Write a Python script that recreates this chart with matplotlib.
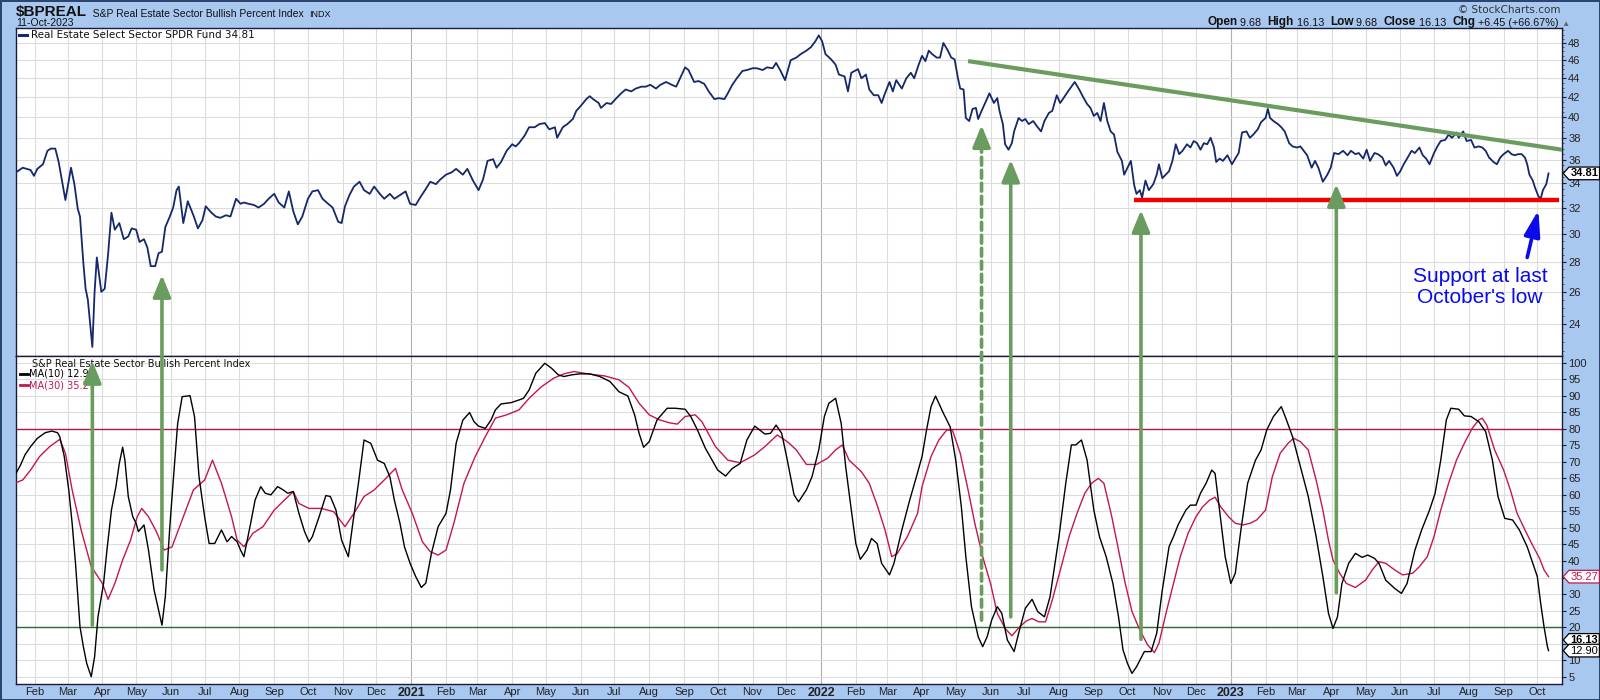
import matplotlib
matplotlib.use("Agg")
import matplotlib.pyplot as plt
import matplotlib.dates as mdates
import pandas as pd
from matplotlib.patches import ConnectionPatch
from matplotlib.lines import Line2D
from matplotlib.path import Path
from matplotlib.ticker import FixedLocator, MultipleLocator, NullFormatter, NullLocator
from matplotlib.transforms import blended_transform_factory

# ---- XLRE close (top panel) ----
price_dates = [
    '2020-01-15', '2020-01-21', '2020-01-28', '2020-01-31', '2020-02-03', '2020-02-08', '2020-02-12', '2020-02-15',
    '2020-02-19', '2020-02-22', '2020-02-28', '2020-03-04', '2020-03-07', '2020-03-10', '2020-03-12', '2020-03-15',
    '2020-03-17', '2020-03-19', '2020-03-23', '2020-03-25', '2020-03-27', '2020-03-31', '2020-04-03', '2020-04-06',
    '2020-04-09', '2020-04-12', '2020-04-16', '2020-04-20', '2020-04-24', '2020-04-27', '2020-05-01', '2020-05-04',
    '2020-05-08', '2020-05-11', '2020-05-14', '2020-05-18', '2020-05-21', '2020-05-24', '2020-05-27', '2020-05-31',
    '2020-06-03', '2020-06-06', '2020-06-08', '2020-06-12', '2020-06-16', '2020-06-21', '2020-06-25', '2020-06-29',
    '2020-07-02', '2020-07-07', '2020-07-11', '2020-07-15', '2020-07-20', '2020-07-24', '2020-07-29', '2020-08-02',
    '2020-08-05', '2020-08-09', '2020-08-14', '2020-08-18', '2020-08-23', '2020-08-27', '2020-09-01', '2020-09-05',
    '2020-09-10', '2020-09-14', '2020-09-18', '2020-09-22', '2020-09-26', '2020-10-01', '2020-10-05', '2020-10-10',
    '2020-10-14', '2020-10-19', '2020-10-23', '2020-10-28', '2020-10-31', '2020-11-03', '2020-11-07', '2020-11-11',
    '2020-11-16', '2020-11-20', '2020-11-25', '2020-11-29', '2020-12-04', '2020-12-08', '2020-12-13', '2020-12-17',
    '2020-12-22', '2020-12-27', '2020-12-31', '2021-01-05', '2021-01-09', '2021-01-14', '2021-01-18', '2021-01-23',
    '2021-01-27', '2021-02-01', '2021-02-06', '2021-02-10', '2021-02-16', '2021-02-20', '2021-02-25', '2021-03-02',
    '2021-03-06', '2021-03-10', '2021-03-15', '2021-03-18', '2021-03-22', '2021-03-27', '2021-04-01', '2021-04-04',
    '2021-04-07', '2021-04-12', '2021-04-16', '2021-04-21', '2021-04-25', '2021-04-30', '2021-05-04', '2021-05-09',
    '2021-05-11', '2021-05-16', '2021-05-20', '2021-05-25', '2021-05-28', '2021-06-01', '2021-06-06', '2021-06-09',
    '2021-06-12', '2021-06-17', '2021-06-19', '2021-06-24', '2021-06-28', '2021-07-02', '2021-07-07', '2021-07-11',
    '2021-07-16', '2021-07-20', '2021-07-25', '2021-07-29', '2021-08-02', '2021-08-07', '2021-08-11', '2021-08-16',
    '2021-08-21', '2021-08-25', '2021-08-30', '2021-09-02', '2021-09-05', '2021-09-10', '2021-09-14', '2021-09-19',
    '2021-09-23', '2021-09-28', '2021-10-02', '2021-10-07', '2021-10-10', '2021-10-14', '2021-10-18', '2021-10-23',
    '2021-10-27', '2021-11-01', '2021-11-05', '2021-11-10', '2021-11-14', '2021-11-19', '2021-11-22', '2021-11-26',
    '2021-11-30', '2021-12-05', '2021-12-10', '2021-12-14', '2021-12-19', '2021-12-23', '2021-12-27', '2021-12-30',
    '2022-01-02', '2022-01-05', '2022-01-10', '2022-01-14', '2022-01-17', '2022-01-22', '2022-01-25', '2022-01-28',
    '2022-02-03', '2022-02-06', '2022-02-10', '2022-02-13', '2022-02-17', '2022-02-21', '2022-02-24', '2022-02-27',
    '2022-03-03', '2022-03-06', '2022-03-09', '2022-03-14', '2022-03-18', '2022-03-22', '2022-03-25', '2022-03-29',
    '2022-04-01', '2022-04-04', '2022-04-07', '2022-04-10', '2022-04-14', '2022-04-17', '2022-04-20', '2022-04-24',
    '2022-04-27', '2022-04-30', '2022-05-03', '2022-05-05', '2022-05-08', '2022-05-10', '2022-05-13', '2022-05-16',
    '2022-05-19', '2022-05-21', '2022-05-24', '2022-05-28', '2022-05-31', '2022-06-04', '2022-06-07', '2022-06-09',
    '2022-06-12', '2022-06-14', '2022-06-17', '2022-06-20', '2022-06-22', '2022-06-26', '2022-06-29', '2022-07-02',
    '2022-07-05', '2022-07-09', '2022-07-13', '2022-07-16', '2022-07-19', '2022-07-23', '2022-07-26', '2022-07-30',
    '2022-08-02', '2022-08-05', '2022-08-09', '2022-08-12', '2022-08-15', '2022-08-19', '2022-08-23', '2022-08-26',
    '2022-08-29', '2022-09-01', '2022-09-04', '2022-09-07', '2022-09-10', '2022-09-13', '2022-09-16', '2022-09-19',
    '2022-09-22', '2022-09-26', '2022-09-28', '2022-10-01', '2022-10-04', '2022-10-07', '2022-10-09', '2022-10-12',
    '2022-10-14', '2022-10-17', '2022-10-20', '2022-10-24', '2022-10-27', '2022-10-29', '2022-11-01', '2022-11-04',
    '2022-11-07', '2022-11-10', '2022-11-13', '2022-11-16', '2022-11-19', '2022-11-23', '2022-11-26', '2022-11-29',
    '2022-12-02', '2022-12-05', '2022-12-08', '2022-12-11', '2022-12-14', '2022-12-17', '2022-12-19', '2022-12-22',
    '2022-12-25', '2022-12-29', '2023-01-02', '2023-01-05', '2023-01-08', '2023-01-11', '2023-01-15', '2023-01-18',
    '2023-01-21', '2023-01-25', '2023-01-28', '2023-02-01', '2023-02-03', '2023-02-05', '2023-02-08', '2023-02-12',
    '2023-02-15', '2023-02-18', '2023-02-22', '2023-02-25', '2023-03-01', '2023-03-04', '2023-03-07', '2023-03-10',
    '2023-03-14', '2023-03-17', '2023-03-20', '2023-03-24', '2023-03-28', '2023-03-31', '2023-04-03', '2023-04-07',
    '2023-04-11', '2023-04-15', '2023-04-18', '2023-04-22', '2023-04-25', '2023-04-29', '2023-05-02', '2023-05-05',
    '2023-05-09', '2023-05-12', '2023-05-16', '2023-05-19', '2023-05-22', '2023-05-26', '2023-05-29', '2023-06-01',
    '2023-06-04', '2023-06-07', '2023-06-11', '2023-06-14', '2023-06-18', '2023-06-21', '2023-06-24', '2023-06-27',
    '2023-07-01', '2023-07-04', '2023-07-07', '2023-07-11', '2023-07-14', '2023-07-17', '2023-07-21', '2023-07-23',
    '2023-07-27', '2023-07-30', '2023-08-03', '2023-08-06', '2023-08-10', '2023-08-13', '2023-08-16', '2023-08-19',
    '2023-08-23', '2023-08-26', '2023-08-29', '2023-09-01', '2023-09-05', '2023-09-08', '2023-09-11', '2023-09-14',
    '2023-09-17', '2023-09-20', '2023-09-22', '2023-09-24', '2023-09-27', '2023-09-29', '2023-10-02', '2023-10-04',
    '2023-10-06', '2023-10-09', '2023-10-11',
]
price_close = [
    34.9, 35.3, 35.1, 34.6, 35.2, 35.6, 36.8, 37.0,
    37.0, 35.8, 32.6, 35.3, 33.9, 31.9, 31.3, 27.9,
    26.2, 25.5, 22.7, 26.0, 28.3, 26.0, 26.2, 28.5,
    31.6, 30.3, 30.8, 29.6, 29.8, 30.4, 30.3, 29.4,
    29.6, 29.0, 27.7, 27.7, 28.6, 28.7, 30.5, 31.3,
    32.0, 33.4, 33.7, 30.8, 32.5, 31.4, 30.4, 31.0,
    32.1, 31.6, 31.3, 31.2, 31.4, 31.3, 32.7, 32.3,
    32.4, 32.3, 32.2, 32.0, 32.3, 32.7, 33.1, 32.4,
    32.0, 33.3, 31.7, 30.7, 31.3, 32.7, 33.3, 33.4,
    32.7, 32.3, 32.0, 30.9, 30.8, 32.1, 33.0, 33.7,
    34.1, 33.4, 33.1, 33.7, 33.1, 32.7, 33.1, 32.7,
    33.0, 33.3, 32.3, 32.2, 32.8, 33.5, 34.1, 33.9,
    34.3, 34.7, 34.9, 35.2, 34.7, 35.2, 34.2, 33.4,
    34.3, 35.9, 36.05, 35.3, 35.8, 36.8, 37.4, 37.2,
    37.5, 38.2, 39.0, 39.0, 39.3, 39.4, 38.8, 39.0,
    38.0, 39.0, 39.3, 39.8, 40.6, 41.1, 41.8, 42.1,
    41.8, 41.4, 40.9, 41.4, 41.3, 41.8, 42.4, 42.8,
    42.6, 42.9, 43.1, 43.1, 43.3, 42.9, 43.3, 43.6,
    43.3, 43.1, 44.4, 45.2, 44.9, 43.6, 43.7, 43.4,
    42.6, 41.8, 41.9, 41.8, 42.4, 43.3, 44.0, 44.8,
    44.9, 45.1, 45.1, 44.9, 45.2, 45.1, 45.7, 44.8,
    43.8, 46.0, 46.3, 46.7, 47.1, 47.5, 48.2, 48.9,
    48.2, 46.7, 46.1, 45.5, 44.4, 44.2, 42.6, 44.6,
    45.0, 44.0, 44.4, 42.8, 42.2, 42.2, 41.4, 42.4,
    43.6, 42.6, 43.8, 42.9, 44.0, 44.6, 44.0, 45.5,
    46.5, 45.9, 47.1, 46.7, 46.3, 46.3, 48.0, 47.1,
    46.3, 46.1, 44.0, 42.9, 42.8, 39.9, 39.6, 40.8,
    40.9, 39.8, 40.6, 41.6, 42.4, 41.4, 41.9, 40.6,
    39.3, 37.4, 36.9, 37.5, 38.6, 39.9, 39.6, 39.8,
    39.3, 39.6, 39.0, 38.6, 39.6, 40.4, 40.6, 42.2,
    41.4, 41.9, 42.6, 43.1, 43.6, 42.8, 41.9, 41.3,
    40.9, 40.1, 40.4, 39.6, 41.4, 39.6, 38.6, 38.3,
    36.7, 35.9, 34.7, 35.3, 35.9, 33.8, 33.1, 33.4,
    32.8, 34.2, 33.4, 33.9, 34.7, 35.6, 34.4, 34.7,
    35.0, 35.9, 37.4, 36.5, 36.8, 37.4, 37.1, 37.7,
    37.5, 36.9, 37.5, 37.4, 38.0, 37.1, 35.8, 36.1,
    35.9, 36.4, 35.6, 36.1, 36.6, 38.5, 38.6, 38.0,
    38.3, 38.8, 39.5, 39.9, 40.8, 39.9, 39.6, 39.3,
    39.0, 38.6, 37.5, 37.2, 37.1, 37.2, 36.8, 36.4,
    35.3, 35.9, 35.3, 34.1, 34.7, 35.3, 36.6, 36.5,
    36.8, 36.4, 36.8, 36.5, 36.6, 36.1, 36.9, 35.9,
    36.6, 36.5, 36.2, 35.5, 35.9, 35.3, 34.6, 35.0,
    35.6, 36.1, 36.8, 36.6, 37.1, 36.4, 36.1, 35.6,
    36.6, 37.2, 37.7, 37.8, 38.3, 38.0, 38.5, 38.0,
    38.6, 37.7, 37.8, 37.1, 37.2, 37.1, 36.8, 36.2,
    35.8, 35.6, 36.2, 36.5, 36.8, 36.5, 36.4, 36.5,
    36.5, 36.2, 35.6, 34.7, 34.2, 33.6, 32.9, 32.7,
    33.4, 33.9, 34.81,
]

# ---- Bullish Percent Index, MA(10) ----
ma10_dates = [
    '2020-01-15', '2020-01-19', '2020-01-23', '2020-01-28', '2020-02-03', '2020-02-10', '2020-02-16', '2020-02-21',
    '2020-02-23', '2020-02-27', '2020-03-02', '2020-03-05', '2020-03-08', '2020-03-12', '2020-03-15', '2020-03-18',
    '2020-03-22', '2020-03-25', '2020-03-28', '2020-04-02', '2020-04-05', '2020-04-09', '2020-04-13', '2020-04-16',
    '2020-04-19', '2020-04-21', '2020-04-24', '2020-04-28', '2020-05-01', '2020-05-03', '2020-05-08', '2020-05-12',
    '2020-05-17', '2020-05-21', '2020-05-24', '2020-05-27', '2020-05-31', '2020-06-04', '2020-06-07', '2020-06-11',
    '2020-06-18', '2020-06-22', '2020-06-26', '2020-07-01', '2020-07-05', '2020-07-10', '2020-07-16', '2020-07-21',
    '2020-07-25', '2020-07-30', '2020-08-02', '2020-08-05', '2020-08-11', '2020-08-15', '2020-08-20', '2020-08-24',
    '2020-08-29', '2020-09-04', '2020-09-09', '2020-09-13', '2020-09-18', '2020-09-23', '2020-09-28', '2020-10-02',
    '2020-10-05', '2020-10-11', '2020-10-17', '2020-10-21', '2020-10-26', '2020-10-31', '2020-11-06', '2020-11-10',
    '2020-11-15', '2020-11-20', '2020-11-26', '2020-12-02', '2020-12-08', '2020-12-13', '2020-12-17', '2020-12-22',
    '2020-12-26', '2020-12-31', '2021-01-05', '2021-01-10', '2021-01-14', '2021-01-19', '2021-01-25', '2021-02-01',
    '2021-02-05', '2021-02-10', '2021-02-16', '2021-02-22', '2021-02-26', '2021-03-02', '2021-03-08', '2021-03-13',
    '2021-03-17', '2021-03-22', '2021-03-31', '2021-04-07', '2021-04-11', '2021-04-16', '2021-04-22', '2021-04-30',
    '2021-05-06', '2021-05-12', '2021-05-17', '2021-05-24', '2021-05-31', '2021-06-09', '2021-06-18', '2021-06-27',
    '2021-07-05', '2021-07-13', '2021-07-19', '2021-07-23', '2021-07-27', '2021-08-01', '2021-08-08', '2021-08-17',
    '2021-08-24', '2021-09-02', '2021-09-07', '2021-09-13', '2021-09-20', '2021-09-26', '2021-10-01', '2021-10-08',
    '2021-10-14', '2021-10-21', '2021-10-27', '2021-11-03', '2021-11-12', '2021-11-17', '2021-11-22', '2021-11-27',
    '2021-12-02', '2021-12-08', '2021-12-12', '2021-12-19', '2021-12-24', '2021-12-30', '2022-01-04', '2022-01-08',
    '2022-01-14', '2022-01-19', '2022-01-23', '2022-01-28', '2022-02-01', '2022-02-05', '2022-02-11', '2022-02-15',
    '2022-02-20', '2022-02-24', '2022-03-03', '2022-03-07', '2022-03-14', '2022-03-21', '2022-03-27', '2022-04-01',
    '2022-04-05', '2022-04-09', '2022-04-13', '2022-04-16', '2022-04-20', '2022-04-26', '2022-05-01', '2022-05-06',
    '2022-05-10', '2022-05-15', '2022-05-21', '2022-05-25', '2022-05-29', '2022-06-02', '2022-06-07', '2022-06-11',
    '2022-06-16', '2022-06-22', '2022-06-26', '2022-07-02', '2022-07-08', '2022-07-13', '2022-07-19', '2022-07-24',
    '2022-08-01', '2022-08-07', '2022-08-12', '2022-08-16', '2022-08-21', '2022-08-26', '2022-09-01', '2022-09-06',
    '2022-09-12', '2022-09-18', '2022-09-23', '2022-09-27', '2022-10-01', '2022-10-05', '2022-10-09', '2022-10-16',
    '2022-10-22', '2022-10-27', '2022-11-01', '2022-11-07', '2022-11-11', '2022-11-15', '2022-11-22', '2022-11-26',
    '2022-12-01', '2022-12-05', '2022-12-10', '2022-12-15', '2022-12-18', '2022-12-22', '2022-12-27', '2023-01-01',
    '2023-01-05', '2023-01-10', '2023-01-16', '2023-01-23', '2023-01-28', '2023-02-02', '2023-02-08', '2023-02-15',
    '2023-02-19', '2023-02-25', '2023-03-04', '2023-03-11', '2023-03-18', '2023-03-24', '2023-03-29', '2023-04-02',
    '2023-04-06', '2023-04-10', '2023-04-16', '2023-04-22', '2023-04-28', '2023-05-03', '2023-05-09', '2023-05-13',
    '2023-05-19', '2023-05-27', '2023-06-02', '2023-06-07', '2023-06-14', '2023-06-20', '2023-06-27', '2023-07-02',
    '2023-07-07', '2023-07-12', '2023-07-16', '2023-07-23', '2023-07-28', '2023-08-03', '2023-08-10', '2023-08-16',
    '2023-08-22', '2023-08-27', '2023-09-02', '2023-09-09', '2023-09-15', '2023-09-22', '2023-09-27', '2023-10-01',
    '2023-10-04', '2023-10-07', '2023-10-10', '2023-10-11',
]
ma10_vals = [
    66.5, 69.0, 72.1, 74.6, 77.1, 78.8, 79.3, 78.8,
    77.6, 71.6, 61.5, 51.4, 39.3, 20.1, 14.1, 9.0,
    5.0, 11.0, 23.1, 33.2, 43.3, 55.4, 62.5, 69.5,
    74.4, 70.5, 59.5, 53.4, 51.4, 48.9, 50.9, 43.3,
    31.2, 25.2, 20.6, 29.2, 50.4, 68.5, 81.6, 89.7,
    90.0, 83.7, 65.5, 53.4, 45.3, 45.3, 49.4, 45.8,
    47.4, 45.8, 43.3, 41.3, 51.4, 58.5, 62.5, 60.5,
    60.0, 62.5, 61.5, 60.5, 61.0, 54.4, 48.9, 45.8,
    47.4, 53.4, 59.8, 59.5, 55.4, 46.3, 41.3, 51.4,
    63.5, 76.6, 75.6, 70.5, 69.5, 65.5, 58.4, 51.4,
    44.3, 39.3, 35.3, 32.0, 33.3, 42.3, 50.4, 54.4,
    61.5, 75.6, 82.6, 84.9, 82.1, 80.8, 80.1, 82.6,
    85.7, 87.5, 87.9, 88.7, 89.2, 91.7, 96.8, 99.8,
    98.3, 96.3, 95.8, 96.3, 96.6, 96.6, 95.8, 94.3,
    91.2, 89.9, 84.2, 78.6, 74.4, 76.1, 82.7, 86.2,
    86.2, 85.9, 83.7, 79.6, 74.1, 70.5, 67.5, 65.7,
    68.0, 69.5, 76.6, 80.8, 78.4, 78.6, 81.1, 78.6,
    70.5, 60.0, 57.9, 61.5, 65.5, 73.6, 83.7, 87.7,
    89.2, 81.6, 68.5, 55.4, 45.3, 40.5, 43.3, 46.8,
    45.3, 39.3, 35.8, 39.3, 49.4, 58.4, 65.5, 71.6,
    79.6, 86.7, 89.9, 87.7, 84.7, 80.6, 70.5, 56.4,
    41.3, 26.2, 17.1, 14.1, 17.1, 22.1, 26.2, 24.2,
    16.1, 12.6, 18.1, 25.7, 28.4, 24.7, 23.1, 29.2,
    47.4, 63.5, 75.1, 75.1, 76.6, 70.5, 55.4, 47.4,
    41.3, 33.2, 23.1, 13.1, 9.0, 6.0, 8.0, 12.6,
    12.6, 18.1, 31.2, 44.3, 47.4, 50.9, 55.4, 56.9,
    56.9, 60.5, 63.5, 67.5, 66.5, 55.4, 41.3, 33.2,
    36.3, 49.4, 63.5, 70.5, 73.6, 79.6, 83.7, 86.7,
    83.2, 77.6, 68.5, 59.5, 47.4, 35.3, 24.2, 19.6,
    23.1, 33.2, 39.3, 42.3, 41.1, 41.8, 40.8, 39.3,
    34.2, 31.7, 30.2, 33.2, 43.3, 49.4, 55.4, 60.5,
    70.5, 82.7, 86.2, 85.9, 83.9, 83.7, 82.1, 79.1,
    70.5, 59.5, 52.9, 52.4, 49.4, 44.3, 39.3, 35.3,
    27.2, 20.1, 14.1, 12.9,
]

# ---- Bullish Percent Index, MA(30) ----
ma30_dates = [
    '2020-01-15', '2020-01-21', '2020-01-28', '2020-02-05', '2020-02-14', '2020-02-23', '2020-02-28', '2020-03-05',
    '2020-03-13', '2020-03-22', '2020-04-01', '2020-04-06', '2020-04-12', '2020-04-19', '2020-04-26', '2020-05-02',
    '2020-05-06', '2020-05-12', '2020-05-19', '2020-05-26', '2020-06-02', '2020-06-12', '2020-06-21', '2020-07-01',
    '2020-07-08', '2020-07-16', '2020-07-25', '2020-07-30', '2020-08-05', '2020-08-13', '2020-08-22', '2020-09-01',
    '2020-09-10', '2020-09-18', '2020-09-23', '2020-10-02', '2020-10-13', '2020-10-24', '2020-11-03', '2020-11-11',
    '2020-11-20', '2020-11-29', '2020-12-08', '2020-12-18', '2020-12-24', '2021-01-02', '2021-01-11', '2021-01-18',
    '2021-01-25', '2021-02-01', '2021-02-08', '2021-02-17', '2021-02-27', '2021-03-08', '2021-03-17', '2021-03-27',
    '2021-04-07', '2021-04-16', '2021-04-27', '2021-05-08', '2021-05-17', '2021-05-26', '2021-06-09', '2021-06-22',
    '2021-07-05', '2021-07-14', '2021-07-23', '2021-08-01', '2021-08-10', '2021-08-19', '2021-08-26', '2021-09-02',
    '2021-09-11', '2021-09-17', '2021-09-29', '2021-10-10', '2021-10-21', '2021-11-03', '2021-11-12', '2021-11-23',
    '2021-12-02', '2021-12-10', '2021-12-19', '2021-12-28', '2022-01-07', '2022-01-14', '2022-01-20', '2022-01-26',
    '2022-02-06', '2022-02-13', '2022-02-20', '2022-02-27', '2022-03-05', '2022-03-10', '2022-03-19', '2022-03-28',
    '2022-04-01', '2022-04-09', '2022-04-16', '2022-04-23', '2022-04-28', '2022-05-05', '2022-05-12', '2022-05-18',
    '2022-05-25', '2022-06-01', '2022-06-07', '2022-06-14', '2022-06-20', '2022-06-27', '2022-07-03', '2022-07-08',
    '2022-07-14', '2022-07-20', '2022-07-26', '2022-08-03', '2022-08-10', '2022-08-17', '2022-08-24', '2022-08-30',
    '2022-09-05', '2022-09-10', '2022-09-17', '2022-09-23', '2022-09-29', '2022-10-05', '2022-10-12', '2022-10-19',
    '2022-10-25', '2022-10-29', '2022-11-05', '2022-11-11', '2022-11-17', '2022-11-24', '2022-12-01', '2022-12-07',
    '2022-12-13', '2022-12-18', '2022-12-23', '2022-12-30', '2023-01-05', '2023-01-12', '2023-01-18', '2023-01-24',
    '2023-02-01', '2023-02-07', '2023-02-14', '2023-02-21', '2023-02-26', '2023-03-04', '2023-03-11', '2023-03-18',
    '2023-03-24', '2023-03-29', '2023-04-02', '2023-04-08', '2023-04-14', '2023-04-22', '2023-05-01', '2023-05-07',
    '2023-05-13', '2023-05-19', '2023-05-27', '2023-06-03', '2023-06-12', '2023-06-18', '2023-06-25', '2023-07-01',
    '2023-07-07', '2023-07-14', '2023-07-21', '2023-07-28', '2023-08-04', '2023-08-10', '2023-08-13', '2023-08-17',
    '2023-08-24', '2023-09-01', '2023-09-07', '2023-09-13', '2023-09-20', '2023-09-26', '2023-10-03', '2023-10-07',
    '2023-10-11',
]
ma30_vals = [
    63.7, 64.5, 67.5, 71.6, 74.6, 76.8, 72.6, 61.5,
    49.4, 38.3, 33.2, 28.4, 33.2, 40.3, 46.3, 53.4,
    55.9, 53.4, 48.9, 43.3, 44.3, 53.4, 61.5, 64.5,
    70.5, 63.5, 53.4, 46.3, 44.3, 48.4, 50.4, 55.4,
    58.4, 61.0, 57.4, 55.9, 55.9, 54.9, 50.4, 54.4,
    59.5, 61.5, 64.5, 68.0, 61.5, 54.4, 45.8, 42.8,
    41.8, 43.3, 51.4, 63.5, 71.6, 77.6, 83.2, 84.2,
    85.7, 89.2, 92.7, 95.3, 96.6, 97.3, 96.5, 96.0,
    94.8, 92.5, 87.7, 84.2, 82.7, 81.8, 81.4, 83.7,
    84.2, 82.1, 74.6, 70.5, 69.7, 72.1, 74.6, 78.1,
    76.1, 73.6, 69.2, 69.2, 71.1, 73.6, 75.1, 70.5,
    67.0, 63.5, 56.9, 49.4, 41.3, 42.3, 47.4, 54.4,
    62.5, 71.6, 76.6, 79.6, 79.6, 72.6, 61.5, 51.4,
    41.3, 33.2, 24.2, 19.6, 17.4, 20.1, 21.9, 22.6,
    21.6, 21.6, 28.2, 38.3, 47.4, 54.4, 60.5, 63.5,
    65.0, 63.5, 53.4, 43.3, 33.2, 24.7, 19.1, 14.6,
    12.3, 15.1, 25.2, 33.2, 41.3, 48.4, 53.4, 56.4,
    58.4, 59.3, 56.4, 53.4, 51.4, 50.9, 51.4, 52.4,
    55.4, 65.5, 72.6, 75.6, 77.1, 76.1, 73.6, 64.5,
    55.4, 46.3, 40.3, 36.3, 33.2, 32.0, 34.2, 37.3,
    39.8, 39.3, 37.3, 35.8, 36.3, 38.3, 41.3, 47.4,
    55.4, 63.5, 70.5, 75.6, 80.1, 82.7, 83.2, 81.1,
    73.6, 67.5, 61.5, 54.4, 49.4, 45.3, 40.8, 37.3,
    35.27,
]

# ---- annotations ----
trend_dates = ['2022-05-12', '2023-10-23']
trend_vals = [45.9, 36.9]
support_dates = ['2022-10-07', '2023-10-20']
support_val = 32.6

arrow_dates = ['2020-03-23', '2020-05-24', '2022-05-24', '2022-06-19', '2022-10-13', '2023-04-05']
arrow_tail = [20.6, 37.3, 22.1, 23.1, 16.3, 30.4]      # in the lower panel
arrow_tip = [100.5, 27.1, 39.2, 36.0, 31.8, 33.9]
arrow_tip_top = [False, True, True, True, True, True]
arrow_dashed = [False, False, True, False, False, False]

blue_tail = ('2023-09-22', 28.3)
blue_tip = ('2023-10-02', 31.8)
note_pos = ('2023-08-11', 26.3)

top_ticks = [24, 26, 28, 30, 32, 34, 36, 38, 40, 42, 44, 46, 48]
bot_ticks = [5, 10, 15, 20, 25, 30, 35, 40, 45, 50, 55, 60, 65, 70, 75, 80, 85, 90, 95, 100]
bot_hidden = [15, 35]    # labels covered by the value tags

BG = '#a8c8ef'
GRID = '#dcdcdc'
YEARGRID = '#b0b0b0'
NAVY = '#14286b'
GREEN = '#6b9c5f'
CRIMSON = '#c4174a'
BLUE = '#0a0aea'
SPINE = '#1a1a3a'

plt.rcParams['font.family'] = ['Liberation Sans', 'DejaVu Sans']


def fx(px):
    return px / 1600.0


def fy(py):
    return 1 - py / 700.0


def tag_box(x0, y0, width, height, mutation_size):
    pad = 0.12 * mutation_size
    x0, y0 = x0 - pad, y0 - pad
    w, h = width + 2 * pad, height + 2 * pad
    tip = 0.45 * h
    return Path([(x0 - tip, y0 + h / 2), (x0, y0), (x0 + w, y0), (x0 + w, y0 + h),
                 (x0, y0 + h), (x0 - tip, y0 + h / 2)], closed=True)


fig = plt.figure(figsize=(16, 7), dpi=100, facecolor=BG)
fig.patch.set_edgecolor('#2b4470')
fig.patch.set_linewidth(2)
ax1 = fig.add_axes([fx(16), fy(356), fx(1546), 328 / 700.0])
ax2 = fig.add_axes([fx(16), fy(684), fx(1546), 328 / 700.0])

xmin, xmax = pd.Timestamp('2020-01-15'), pd.Timestamp('2023-10-23')
months = pd.date_range('2020-02-01', '2023-10-01', freq='MS')

for ax in (ax1, ax2):
    ax.set_facecolor('white')
    ax.set_xlim(xmin, xmax)
    for m in months:
        ax.axvline(m, color=YEARGRID if m.month == 1 else GRID, lw=0.8, zorder=0)
    ax.set_xticks(months)
    for s in ax.spines.values():
        s.set_color(SPINE)
        s.set_linewidth(1.0)
    ax.yaxis.tick_right()

# top panel
ax1.set_yscale('log')
ax1.set_ylim(22.2, 49.8)
ax1.yaxis.set_major_locator(FixedLocator(top_ticks))
ax1.set_yticklabels([str(t) for t in top_ticks])
ax1.yaxis.set_minor_locator(MultipleLocator(0.5))
ax1.yaxis.set_minor_formatter(NullFormatter())
ax1.grid(axis='y', which='major', color=GRID, lw=0.8, zorder=0)
ax1.tick_params(axis='x', labelbottom=False, length=0)
ax1.tick_params(axis='y', which='major', direction='out', length=3, pad=1.5, labelsize=8, colors='#222222')
ax1.tick_params(axis='y', which='minor', direction='out', length=1.5, colors='#444444')

ax1.plot(pd.to_datetime(price_dates), price_close, color=NAVY, lw=1.3, zorder=3)
ax1.plot(pd.to_datetime(trend_dates), trend_vals, color=GREEN, lw=3, solid_capstyle='butt', zorder=4)
ax1.plot(pd.to_datetime(support_dates), [support_val, support_val], color='#ee0000', lw=3.2,
         solid_capstyle='butt', zorder=4)

ax1.annotate('', xy=(pd.Timestamp(blue_tip[0]), blue_tip[1]),
             xytext=(pd.Timestamp(blue_tail[0]), blue_tail[1]),
             arrowprops=dict(arrowstyle='-|>,head_length=1.3,head_width=0.4', color=BLUE, lw=2.6,
                             mutation_scale=12, shrinkA=0, shrinkB=0), zorder=5)
ax1.text(pd.Timestamp(note_pos[0]), note_pos[1], "Support at last\nOctober's low", color=BLUE,
         fontsize=15, ha='center', va='center', linespacing=1.15, zorder=5)

# bottom panel
ax2.set_ylim(2.8, 102)
ax2.set_yticks(bot_ticks)
ax2.set_yticklabels(['' if t in bot_hidden else str(t) for t in bot_ticks])
ax2.yaxis.set_minor_locator(NullLocator())
ax2.grid(axis='y', color=GRID, lw=0.8, zorder=0)
ax2.tick_params(axis='y', direction='out', length=3, pad=1.5, labelsize=8, colors='#222222')
ax2.tick_params(axis='x', length=0, pad=2.5, labelsize=8, colors='#222222')
labels = [str(m.year) if m.month == 1 else m.strftime('%b') for m in months]
ax2.set_xticklabels(labels)
for lbl, m in zip(ax2.get_xticklabels(), months):
    if m.month == 1:
        lbl.set_fontweight('bold')
        lbl.set_fontsize(9)

ax2.axhline(80, color='#b4154b', lw=1.0, zorder=2)
ax2.axhline(20, color='#2c6a2c', lw=1.0, zorder=2)
ax2.plot(pd.to_datetime(ma30_dates), ma30_vals, color=CRIMSON, lw=1.0, zorder=3)
ax2.plot(pd.to_datetime(ma10_dates), ma10_vals, color='black', lw=1.0, zorder=3)

# green arrows that run from the lower panel up to the price panel
HEAD = '-|>,head_length=1.1,head_width=0.45'
for d, tail, tip, on_top, dashed in zip(arrow_dates, arrow_tail, arrow_tip, arrow_tip_top, arrow_dashed):
    xd = mdates.date2num(pd.Timestamp(d))
    tip_ax = ax1 if on_top else ax2
    if dashed:
        # dashed shaft, solid head
        shaft = ConnectionPatch(xyA=(xd, tail), coordsA=ax2.transData, xyB=(xd, tip * 0.975),
                                coordsB=tip_ax.transData, arrowstyle='-', color=GREEN, lw=2.6,
                                linestyle=(0, (2.2, 1.4)), zorder=6)
        fig.add_artist(shaft)
        head = ConnectionPatch(xyA=(xd, tip * 0.96), coordsA=tip_ax.transData, xyB=(xd, tip),
                               coordsB=tip_ax.transData, arrowstyle=HEAD, mutation_scale=12,
                               color=GREEN, lw=2.6, shrinkA=0, shrinkB=0, zorder=6)
        fig.add_artist(head)
    else:
        cp = ConnectionPatch(xyA=(xd, tail), coordsA=ax2.transData, xyB=(xd, tip),
                             coordsB=tip_ax.transData, arrowstyle=HEAD, mutation_scale=12,
                             color=GREEN, lw=2.6, shrinkA=0, shrinkB=0, zorder=6)
        fig.add_artist(cp)

# value tags at the right axis
ytrans1 = blended_transform_factory(ax1.transAxes, ax1.transData)
ytrans2 = blended_transform_factory(ax2.transAxes, ax2.transData)
ax1.annotate('34.81', xy=(1, 34.81), xycoords=ytrans1, xytext=(6, 0), textcoords='offset points',
             ha='left', va='center', fontsize=8, fontweight='bold', annotation_clip=False, zorder=10,
             bbox=dict(boxstyle=tag_box, fc='white', ec='black', lw=0.9))
for val, txt, col, wt in [(35.27, '35.27', CRIMSON, 'normal'), (16.13, '16.13', 'black', 'bold'),
                          (12.90, '12.90', 'black', 'normal')]:
    ax2.annotate(txt, xy=(1, val), xycoords=ytrans2, xytext=(6, 0), textcoords='offset points',
                 ha='left', va='center', fontsize=8, fontweight=wt, color=col, annotation_clip=False,
                 zorder=10, bbox=dict(boxstyle=tag_box, fc='white', ec=col, lw=0.9))

# panel legends
LEG = ['DejaVu Sans']
fig.add_artist(Line2D([fx(19), fx(27)], [fy(35), fy(35)], color=NAVY, lw=2.2, transform=fig.transFigure))
fig.text(fx(31), fy(35), 'Real Estate Select Sector SPDR Fund 34.81', fontsize=7.5, family=LEG,
         va='center', ha='left', color='#111111')
fig.text(fx(32), fy(364), 'S&P Real Estate Sector Bullish Percent Index', fontsize=7, family=LEG,
         va='center', ha='left', color='#111111')
fig.add_artist(Line2D([fx(20), fx(28)], [fy(374), fy(374)], color='black', lw=2, transform=fig.transFigure))
fig.text(fx(29), fy(374), 'MA(10) 12.90', fontsize=7, family=LEG, va='center', ha='left', color='black')
fig.add_artist(Line2D([fx(20), fx(28)], [fy(385), fy(385)], color=CRIMSON, lw=2, transform=fig.transFigure))
fig.text(fx(29), fy(385), 'MA(30) 35.27', fontsize=7, family=LEG, va='center', ha='left', color=CRIMSON)

# header bar
t = fig.text(fx(16), fy(16), r'\$BPREAL', fontsize=11, fontweight='bold', va='baseline', color='#111111')
t = ax1.annotate('  S&P Real Estate Sector Bullish Percent Index  ', xy=(1, 0), xycoords=t,
                 va='bottom', fontsize=7.5, color='#111111', annotation_clip=False)
ax1.annotate('INDX', xy=(1, 0), xycoords=t, va='bottom', fontsize=6.5, color='#111111',
             annotation_clip=False)
fig.text(fx(16), fy(26), '11-Oct-2023', fontsize=7.5, va='baseline', color='#111111')
fig.text(fx(1561), fy(13), '\u00a9 StockCharts.com', fontsize=7.5, ha='right', va='baseline',
         color='#333333', family=LEG)

pieces = [('Open', 'bold', '#111111'), (' 9.68  ', 'normal', '#111111'),
          ('High', 'bold', '#111111'), (' 16.13  ', 'normal', '#111111'),
          ('Low', 'bold', '#111111'), (' 9.68  ', 'normal', '#111111'),
          ('Close', 'bold', '#111111'), (' 16.13  ', 'normal', '#111111'),
          ('Chg', 'bold', '#111111'), (' +6.45 (+66.67%) ', 'normal', '#111111'),
          ('\u25b2', 'normal', '#666666')]
prev = None
for txt, wt, col in pieces:
    size = 8.5 if wt == 'bold' else 7.8
    if txt == '\u25b2':
        size = 6
    if prev is None:
        prev = ax1.annotate(txt, xy=(1207, 700 - 28), xycoords='figure pixels', va='bottom',
                            fontsize=size, fontweight=wt, color=col, annotation_clip=False)
    else:
        prev = ax1.annotate(txt, xy=(1, 0), xycoords=prev, va='bottom', fontsize=size,
                            fontweight=wt, color=col, annotation_clip=False,
                            family=['Liberation Sans', 'DejaVu Sans'])

fig.savefig('out.png', dpi=100, facecolor=BG, edgecolor=fig.get_edgecolor())
